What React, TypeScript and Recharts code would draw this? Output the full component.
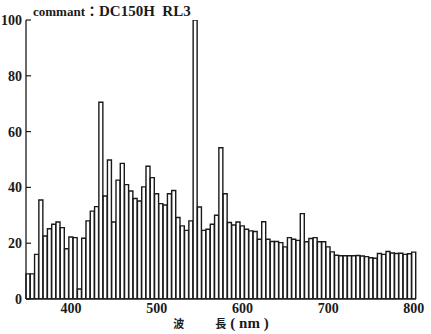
import { BarChart, Bar, XAxis, YAxis, Label } from 'recharts';

// wavelength bins (nm), 5 nm wide
const wavelengths = [
  350, 355, 360, 365, 370, 375, 380, 385, 390, 395,
  400, 405, 410, 415, 420, 425, 430, 435, 440, 445,
  450, 455, 460, 465, 470, 475, 480, 485, 490, 495,
  500, 505, 510, 515, 520, 525, 530, 535, 540, 545,
  550, 555, 560, 565, 570, 575, 580, 585, 590, 595,
  600, 605, 610, 615, 620, 625, 630, 635, 640, 645,
  650, 655, 660, 665, 670, 675, 680, 685, 690, 695,
  700, 705, 710, 715, 720, 725, 730, 735, 740, 745,
  750, 755, 760, 765, 770, 775, 780, 785, 790, 795,
  800,
];

// relative intensity per bin
const intensity = [
  9, 9, 16, 35.5, 22.6, 25.2, 26.8, 27.6, 25.6, 18,
  22.2, 22, 3.6, 21.8, 28, 31.5, 33.1, 70.5, 36.9, 49.8,
  27.6, 42.6, 48.6, 41, 38.7, 36, 35.1, 40.2, 47.6, 43.5,
  37.7, 34.2, 33.7, 37.7, 38.9, 29.2, 26.2, 24.6, 28, 100,
  33, 24.6, 25, 26.8, 30, 54.2, 37.7, 27.4, 26.5, 27.6,
  26.2, 25, 24.4, 24.2, 21.4, 27.7, 21.4, 20.6, 20.6, 20.2,
  18.7, 22, 21.4, 21, 30.6, 20.5, 21.7, 22, 20.5, 20.5,
  18.7, 16.9, 15.7, 15.5, 15.5, 15.5, 15.5, 15.6, 15.4, 15.2,
  14.8, 14.6, 16.3, 16, 17, 16.5, 16.3, 16.4, 16, 16.2,
  16.8,
];

const xTicks = [400, 500, 600, 700, 800];
const yTicks = [0, 20, 40, 60, 80, 100];

const ink = '#1a1a1a';
const serif = '"Liberation Serif", "DejaVu Serif", serif';
const cjk = '"Noto Sans CJK JP", "Noto Sans CJK SC", sans-serif';

const data = wavelengths.map((nm, i) => ({ nm, value: intensity[i] }));

// y ticks point into the plot
function YTick(props: any) {
  const { x, y, payload } = props;
  return (
    <g>
      <line x1={x + 4} x2={x + 9} y1={y} y2={y} stroke={ink} strokeWidth={1.2} />
      <text x={x} y={y} dy="0.355em" textAnchor="end" fontFamily={serif} fontWeight="bold" fontSize={14} fill={ink}>
        {payload.value}
      </text>
    </g>
  );
}

function AxisTitle(props: any) {
  const { viewBox } = props;
  const cx = viewBox.x + viewBox.width / 2;
  const by = viewBox.y + viewBox.height - 6;
  return (
    <text x={cx} y={by} textAnchor="middle" fill={ink}>
      <tspan fontFamily={cjk} fontWeight="bold" fontSize={11}>波</tspan>
      <tspan dx={31} fontFamily={cjk} fontWeight="bold" fontSize={11}>長</tspan>
      <tspan dx={4} fontFamily={serif} fontWeight="bold" fontSize={15}>( nm )</tspan>
    </text>
  );
}

export default function App() {
  return (
    <div style={{ position: 'fixed', left: 0, top: 0, width: 431, height: 334, background: '#fff' }}>
      <div
        style={{
          position: 'absolute', left: 33, top: 1, whiteSpace: 'nowrap', lineHeight: '18px',
          fontFamily: serif, fontWeight: 'bold', color: ink,
        }}
      >
        <span style={{ fontSize: 13 }}>commant</span>
        <span style={{ fontSize: 14, fontFamily: cjk }}>：</span>
        <span style={{ fontSize: 15 }}>DC150H&nbsp;&nbsp;RL3</span>
      </div>
      <BarChart
        width={431}
        height={334}
        data={data}
        margin={{ top: 20, right: 15, bottom: 0, left: 0 }}
        barCategoryGap={0}
        barGap={0}
      >
        <XAxis
          dataKey="nm"
          type="category"
          ticks={xTicks}
          interval={0}
          height={35}
          tickSize={0}
          tickMargin={4}
          tickLine={false}
          axisLine={{ stroke: ink, strokeWidth: 1.3 }}
          tick={{ fontFamily: serif, fontWeight: 'bold', fontSize: 14, fill: ink }}
        >
          <Label content={<AxisTitle />} />
        </XAxis>
        <XAxis
          xAxisId="top"
          orientation="top"
          dataKey="nm"
          height={0}
          tick={false}
          tickLine={false}
          axisLine={{ stroke: ink, strokeWidth: 1.3 }}
        />
        <YAxis
          domain={[0, 100]}
          ticks={yTicks}
          interval={0}
          width={26}
          tickSize={0}
          tickMargin={4}
          tickLine={false}
          allowDataOverflow
          axisLine={{ stroke: ink, strokeWidth: 1.3 }}
          tick={<YTick />}
        />
        <YAxis
          yAxisId="right"
          orientation="right"
          domain={[0, 100]}
          width={0}
          tick={false}
          tickLine={false}
          axisLine={{ stroke: ink, strokeWidth: 1.3 }}
        />
        <Bar dataKey="value" fill="#fff" stroke={ink} strokeWidth={1.4} isAnimationActive={false} />
      </BarChart>
    </div>
  );
}
